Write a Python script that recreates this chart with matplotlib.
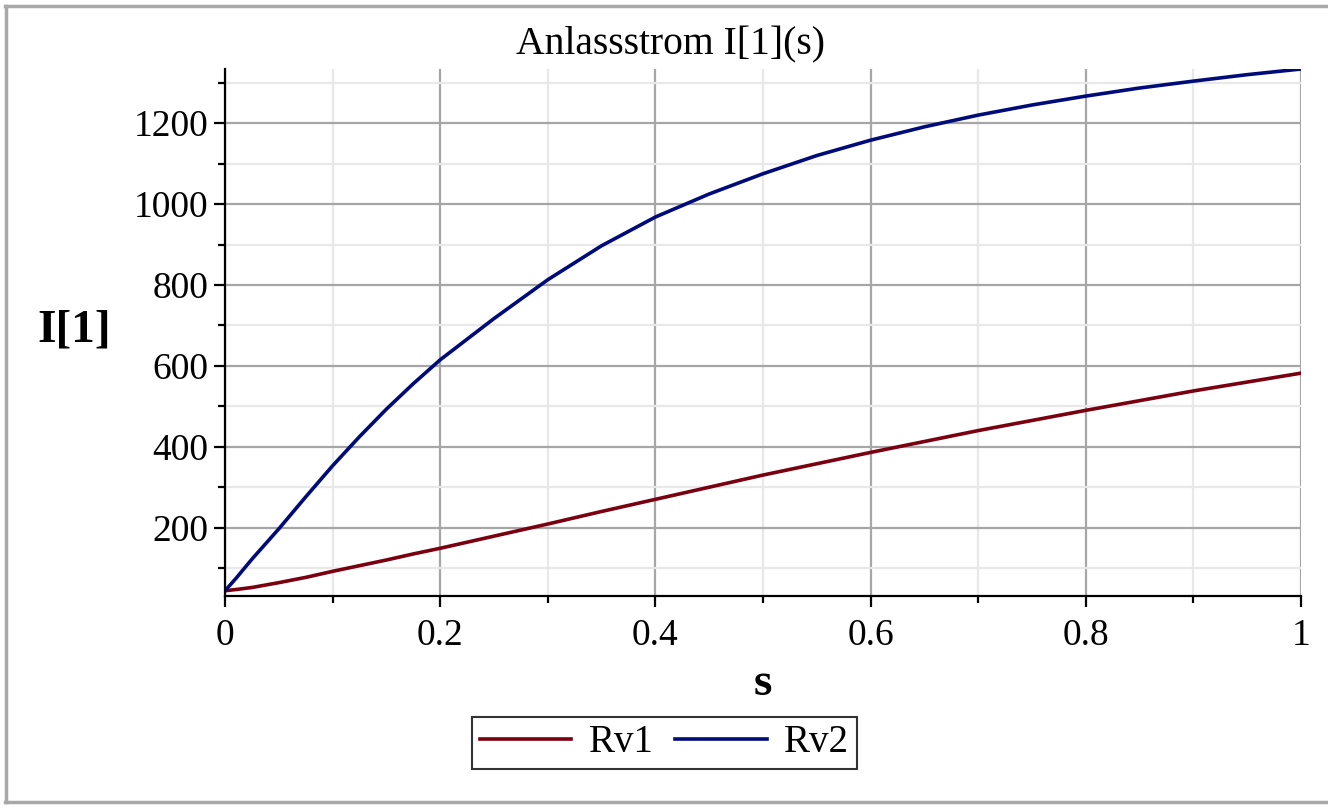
import numpy as np
import matplotlib
matplotlib.use("Agg")
import matplotlib.pyplot as plt
from matplotlib.lines import Line2D
from matplotlib.ticker import MultipleLocator

# ── Data ──────────────────────────────────────────────────────────────────────
s_vals = [0.0, 0.01, 0.025, 0.05, 0.075, 0.1, 0.125, 0.15, 0.175, 0.2, 0.25,
          0.3, 0.35, 0.4, 0.45, 0.5, 0.55, 0.6, 0.65, 0.7, 0.75, 0.8, 0.85,
          0.9, 0.95, 1.0]
rv1 = [44, 47, 52, 64, 77, 92, 106, 120, 135, 149, 179,
       209, 240, 270, 300, 330, 358, 386, 413, 440, 465, 490, 514,
       538, 560, 582]
rv2 = [44, 74, 122, 197, 276, 353, 425, 493, 556, 615, 717,
       813, 897, 968, 1025, 1075, 1120, 1158, 1191, 1220, 1245, 1267, 1287,
       1304, 1320, 1334]

TITLE = "Anlassstrom I[1](s)"
XLABEL = "s"
YLABEL = "I[1]"
LABELS = ["Rv1", "Rv2"]
COLORS = ["#7a0010", "#000b7a"]

plt.rcParams["font.family"] = ["Liberation Serif", "DejaVu Serif"]

W, H = 1328, 809
fig = plt.figure(figsize=(W / 100, H / 100), dpi=100)
ax = fig.add_axes([225 / W, 1 - 596 / H, (1301 - 225) / W, (596 - 69) / H])

lines = []
for y, lab, c in zip([rv1, rv2], LABELS, COLORS):
    ln, = ax.plot(s_vals, y, color=c, lw=2.6, label=lab, zorder=3,
                  solid_joinstyle="round")
    lines.append(ln)

ax.set_xlim(0, 1)
ax.set_ylim(31, 1334)
ax.xaxis.set_minor_locator(MultipleLocator(0.1))
ax.yaxis.set_minor_locator(MultipleLocator(100))
ax.set_xticks([0, 0.2, 0.4, 0.6, 0.8, 1.0])
ax.set_xticklabels(["0", "0.2", "0.4", "0.6", "0.8", "1"])
ax.set_yticks([200, 400, 600, 800, 1000, 1200])

ax.grid(True, which="major", color="#a6a6a6", lw=1.6, zorder=1)
ax.grid(True, which="minor", color="#e8e8e8", lw=1.6, zorder=0)
ax.set_axisbelow(True)

for side in ["top", "right"]:
    ax.spines[side].set_visible(False)
for side in ["left", "bottom"]:
    ax.spines[side].set_linewidth(1.6)
    ax.spines[side].set_zorder(4)

ax.tick_params(which="major", direction="out", length=8, width=1.6,
               labelsize=27, pad=4)
ax.tick_params(which="minor", direction="out", length=5, width=1.6)
ax.tick_params(axis="x", pad=8)

fig.text(671 / W, 1 - 45 / H, TITLE, ha="center", va="center", fontsize=28.5)
fig.text(763 / W, 1 - 684 / H, XLABEL, ha="center", va="center",
         fontsize=34, fontweight="bold")
fig.text(74 / W, 1 - 330 / H, YLABEL, ha="center", va="center",
         fontsize=34, fontweight="bold")

leg = fig.legend(handles=lines, labels=LABELS, loc="center",
                 bbox_to_anchor=(664.5 / W, 1 - 743 / H), ncol=2,
                 fontsize=28, frameon=True, fancybox=False,
                 handlelength=2.35, handletextpad=0.45, columnspacing=0.55,
                 borderpad=0.2, borderaxespad=0)
leg.get_frame().set_edgecolor("black")
leg.get_frame().set_linewidth(1.5)

# ── Gray frame around the plot region ────────────────────────────────────────
fc = "#a8a8a8"
fig.add_artist(Line2D([5 / W, 1], [1 - 6 / H, 1 - 6 / H], color=fc, lw=2.5))
fig.add_artist(Line2D([6 / W, 6 / W], [1 - 6 / H, 1 - 802 / H], color=fc, lw=2.5))
fig.add_artist(Line2D([5 / W, 1], [1 - 802 / H, 1 - 802 / H], color=fc, lw=2.5))

plt.savefig("out.png", dpi=100)
plt.close()
